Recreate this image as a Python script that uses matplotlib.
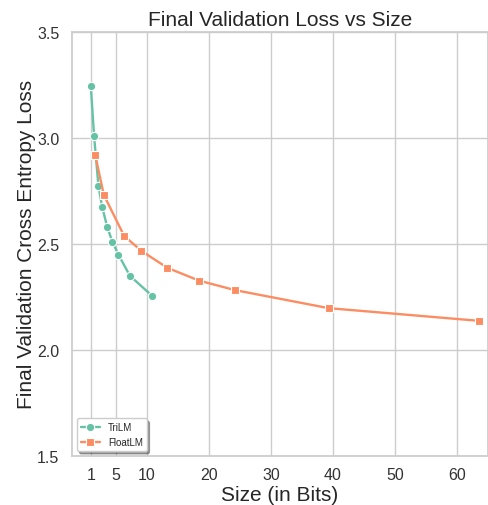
import matplotlib
matplotlib.use("Agg")
import matplotlib.pyplot as plt
import seaborn as sns

# 各モデルのサイズ（ビット）と最終検証損失
trilm_size = [0.95, 1.48, 2.18, 2.77, 3.58, 4.44, 5.4, 7.24, 10.8]
trilm_loss = [3.247, 3.008, 2.774, 2.676, 2.582, 2.509, 2.45, 2.35, 2.256]

floatlm_size = [1.65, 3.05, 6.32, 9.11, 13.3, 18.4, 24.2, 39.3, 63.6]
floatlm_loss = [2.921, 2.731, 2.538, 2.467, 2.387, 2.327, 2.282, 2.197, 2.137]

x_ticks = [1, 5, 10, 20, 30, 40, 50, 60]
y_ticks = [1.5, 2.0, 2.5, 3.0, 3.5]


def main() -> None:
    sns.set_theme(style="whitegrid")
    plt.rcParams["font.family"] = ["Liberation Sans", "DejaVu Sans"]
    colors = sns.color_palette("Set2")

    fig = plt.figure(figsize=(4.89, 5.06), dpi=100)
    ax = fig.add_axes([0.147, 0.097, 0.851, 0.838])

    ax.plot(trilm_size, trilm_loss, color=colors[0], marker="o", markersize=6,
            markeredgecolor="white", markeredgewidth=0.8, linewidth=1.7, label="TriLM")
    ax.plot(floatlm_size, floatlm_loss, color=colors[1], marker="s", markersize=6,
            markeredgecolor="white", markeredgewidth=0.8, linewidth=1.7, label="FloatLM")

    ax.set_xlim(-2.1, 65)
    ax.set_ylim(1.5, 3.5)
    ax.set_xticks(x_ticks)
    ax.set_yticks(y_ticks)
    ax.tick_params(labelsize=11.5, labelcolor="#333333")
    ax.tick_params(axis="x", pad=2)
    ax.tick_params(axis="y", pad=3)

    ax.set_title("Final Validation Loss vs Size", fontsize=15, pad=5)
    ax.set_xlabel("Size (in Bits)", fontsize=15, labelpad=2)
    ax.set_ylabel("Final Validation Cross Entropy Loss", fontsize=15, labelpad=1)

    ax.legend(loc="lower left", fontsize=7, shadow=True, frameon=True, fancybox=True)

    fig.savefig("out.png", dpi=100)


if __name__ == "__main__":
    main()
